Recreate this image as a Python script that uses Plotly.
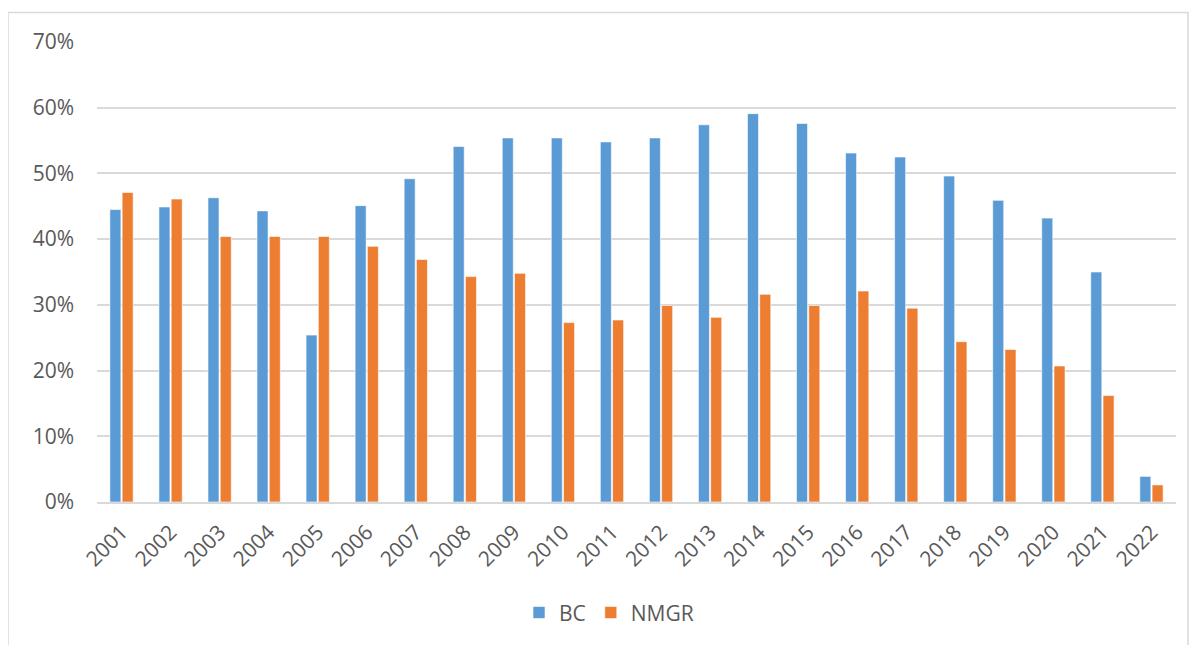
import plotly.graph_objects as go

years = [str(y) for y in range(2001, 2023)]
bc = [44.5, 44.9, 46.3, 44.3, 25.4, 45.1, 49.2, 54.1, 55.4, 55.4, 54.8, 55.4,
      57.4, 59.1, 57.6, 53.1, 52.5, 49.6, 45.9, 43.2, 35.0, 3.9]
nmgr = [47.1, 46.1, 40.4, 40.4, 40.4, 38.9, 36.9, 34.3, 34.8, 27.3, 27.7, 29.9,
        28.1, 31.6, 29.9, 32.1, 29.5, 24.4, 23.2, 20.7, 16.2, 2.6]
bc_frac = [v / 100 for v in bc]
nmgr_frac = [v / 100 for v in nmgr]

FONT = "Open Sans"
TXT = "#595959"

fig = go.Figure()
fig.add_trace(go.Bar(x=years, y=bc_frac, name="BC",
                     marker=dict(color="#5B9BD5", line=dict(color="#FFFFFF", width=0.6))))
fig.add_trace(go.Bar(x=years, y=nmgr_frac, name="NMGR",
                     marker=dict(color="#ED7D31", line=dict(color="#FFFFFF", width=0.6))))

# page body has an 8px margin, so the figure is drawn 8px smaller and offset
OFF = 8
W, H = 1197 - OFF, 645 - OFF
L, R, T, B = 97 - OFF, 21, 41.5 - OFF, 143
pw, ph = W - L - R, H - T - B


def px_x(x):
    return (x - OFF - L) / pw


def px_y(y):
    return (H - B - (y - OFF)) / ph


fig.update_layout(
    width=W, height=H,
    margin=dict(l=L, r=R, t=T, b=B, pad=0),
    paper_bgcolor="white", plot_bgcolor="white",
    barmode="group", bargap=0.5, bargroupgap=0.1,
    font=dict(family=FONT, size=21, color=TXT),
    showlegend=True,
    legend=dict(orientation="h", x=px_x(609), xanchor="center",
                y=px_y(613), yanchor="middle",
                font=dict(family=FONT, size=21, color=TXT),
                itemclick=False, bgcolor="rgba(0,0,0,0)"),
    xaxis=dict(type="category", tickangle=-45, showgrid=False,
               showline=True, linecolor="#D9D9D9", linewidth=1.5,
               ticks="", ticklabelstandoff=8,
               tickfont=dict(family=FONT, size=21, color=TXT)),
    yaxis=dict(range=[0, 0.7], dtick=0.1, tickformat=".0%",
               showgrid=True, gridcolor="#D9D9D9", gridwidth=1.5,
               zeroline=False, showline=False, ticks="",
               ticklabelstandoff=22,
               tickfont=dict(family=FONT, size=21, color=TXT)),
    shapes=[dict(type="rect", xref="paper", yref="paper",
                 x0=px_x(8), x1=px_x(1188), y0=px_y(660), y1=px_y(12),
                 line=dict(color="#D9D9D9", width=1.5), fillcolor="rgba(0,0,0,0)",
                 layer="below")],
)

fig.write_html("out.html")
